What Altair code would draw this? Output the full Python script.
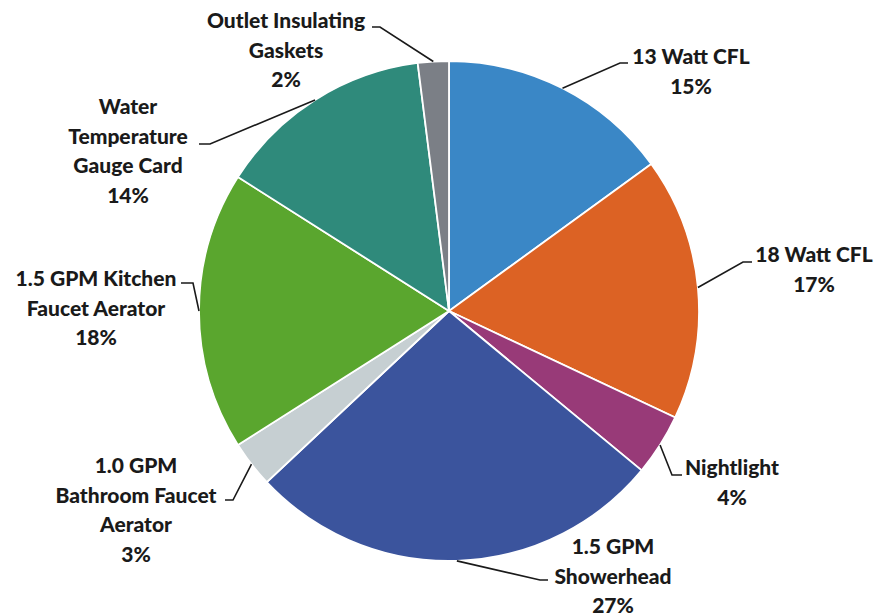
import math
import altair as alt
import pandas as pd

# ---- data ----
categories = [
    "13 Watt CFL",
    "18 Watt CFL",
    "Nightlight",
    "1.5 GPM Showerhead",
    "1.0 GPM Bathroom Faucet Aerator",
    "1.5 GPM Kitchen Faucet Aerator",
    "Water Temperature Gauge Card",
    "Outlet Insulating Gaskets",
]
values = [15, 17, 4, 27, 3, 18, 14, 2]
label_lines = [
    ["13 Watt CFL", "15%"],
    ["18 Watt CFL", "17%"],
    ["Nightlight", "4%"],
    ["1.5 GPM", "Showerhead", "27%"],
    ["1.0 GPM", "Bathroom Faucet", "Aerator", "3%"],
    ["1.5 GPM Kitchen", "Faucet Aerator", "18%"],
    ["Water", "Temperature", "Gauge Card", "14%"],
    ["Outlet Insulating", "Gaskets", "2%"],
]
colors = ["#3a87c6", "#dc6224", "#983a78", "#3b549d", "#c6cfd2",
          "#5aa62e", "#2f8a7b", "#7b7f86"]

# ---- layout (pixels) ----
CX, CY, R = 449, 311, 250
W, H = 874, 616
FONT = "Lato"
FS = 21
LINE_GAP = 29.5
# label block: center x, y of first line
label_pos = [
    (691, 58), (814, 256), (732, 469), (613, 548),
    (136, 467), (96, 280), (128, 108), (286, 22),
]
# leader line: elbow point and end point near text
leader_pts = [
    [(620, 63), (628, 63)],
    [(743, 262), (752, 262)],
    [(672, 475), (682, 475)],
    [(540, 580), (548, 580)],
    [(233, 500), (225, 500)],
    [(193, 283), (181, 283)],
    [(210, 144), (199, 144)],
    [(380, 27), (372, 27)],
]

total = sum(values)
pie_df = pd.DataFrame({"category": categories, "value": values,
                       "order": list(range(len(values)))})

# leader lines from pie edge (mid-angle of slice)
rows = []
cum = 0
for i, v in enumerate(values):
    mid = (cum + v / 2) / total * 2 * math.pi
    cum += v
    sx = CX + R * math.sin(mid)
    sy = CY - R * math.cos(mid)
    pts = [(sx, sy)] + leader_pts[i]
    for j, (px, py) in enumerate(pts):
        rows.append({"label": categories[i], "seq": j, "px": px, "py": py})
lead_df = pd.DataFrame(rows)

trows = []
for i, lines in enumerate(label_lines):
    lx, ly = label_pos[i]
    for k, t in enumerate(lines):
        trows.append({"tx": lx, "ty": ly + k * LINE_GAP, "text": t})
text_df = pd.DataFrame(trows)

pie = alt.Chart(pie_df).mark_arc(radius=R, stroke="white", strokeWidth=1.8).encode(
    theta=alt.Theta("value:Q", stack=True),
    order=alt.Order("order:Q"),
    color=alt.Color("category:N", scale=alt.Scale(domain=categories, range=colors),
                    legend=None),
    x=alt.value(CX),
    y=alt.value(CY),
)

leaders = alt.Chart(lead_df).mark_line(color="#1a1a1a", strokeWidth=1.6).encode(
    x=alt.X("px:Q", scale=None, axis=None),
    y=alt.Y("py:Q", scale=None, axis=None),
    detail="label:N",
    order="seq:Q",
)

texts = alt.Chart(text_df).mark_text(
    font=FONT, fontSize=FS, fontWeight=900, color="#1a1a1a",
    align="center", baseline="middle",
).encode(
    x=alt.X("tx:Q", scale=None, axis=None),
    y=alt.Y("ty:Q", scale=None, axis=None),
    text="text:N",
)

chart = alt.layer(pie, leaders, texts).properties(
    width=W, height=H, padding=0, autosize=alt.AutoSizeParams(type="none"),
    background="white",
).configure_view(stroke=None)

chart.save("out.html", embed_options={"renderer": "svg", "actions": False})
